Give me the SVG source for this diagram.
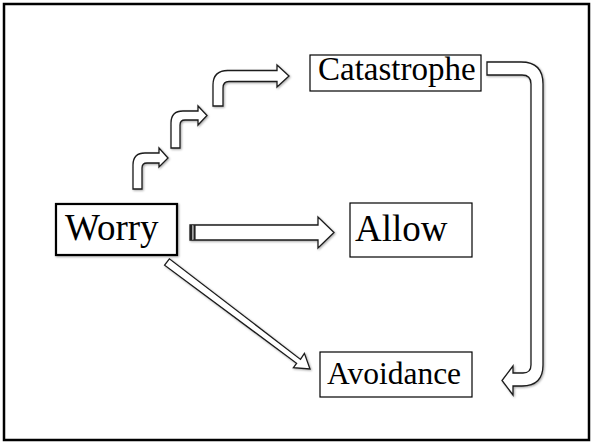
<svg xmlns="http://www.w3.org/2000/svg" width="593" height="444" viewBox="0 0 593 444">
  <defs>
    <filter id="soft" x="-10%" y="-10%" width="130%" height="130%">
      <feDropShadow dx="1" dy="1" stdDeviation="0.8" flood-color="#000" flood-opacity="0.35"/>
    </filter>
  </defs>
  <style>
    .frame { fill: #ffffff; stroke: #000; stroke-width: 2.5; }
    .box { fill: #ffffff; stroke: #000; stroke-width: 1.2; }
    .box-strong { fill: #ffffff; stroke: #000; stroke-width: 2.2; }
    .label { font-family: "Liberation Serif", "Times New Roman", serif; fill: #000; }
    .arrow { fill: #ffffff; stroke: #1a1a1a; stroke-width: 1.3; stroke-linejoin: miter; }
  </style>

  <!-- page frame -->
  <rect class="frame" x="4" y="4" width="585" height="436"/>

  <!-- connectors -->
  <g id="connectors" filter="url(#soft)">
    <!-- stepped bent arrows climbing from Worry to Catastrophe -->
    <path class="arrow" d="M133,189 V165 Q133,153 145,153 H159 V148 L168,158 L159,167 V163 H147 Q142,163 142,168 V189 Z"/>
    <path class="arrow" d="M171,148 V123 Q171,111 183,111 H198 V106 L207,115.5 L198,125 V120 H185 Q180,120 180,125 V148 Z"/>
    <path class="arrow" d="M213,106 V85 Q213,70.5 228,70.5 H277 V65 L289,76 L277,87 V81.5 H229 Q223,81.5 223,88 V106 Z"/>

    <!-- Worry to Allow -->
    <path class="arrow" d="M190,225 H318 V217 L334,232.5 L318,248 V240 H190 Z"/>
    <rect x="190" y="225" width="2.2" height="15" fill="#222"/>
    <rect x="192.2" y="225" width="1.4" height="15" fill="#999"/>
    <rect x="193.6" y="225" width="2" height="15" fill="#222"/>

    <!-- Worry to Avoidance -->
    <path class="arrow" d="M164.6,265.2 L169.4,258.8 L300.5,359.4 L304.4,353.4 L310,369 L293.4,367.6 L296.6,363.3 Z"/>

    <!-- Catastrophe around to Avoidance -->
    <path class="arrow" d="M487,62 H521 Q543,62 543,84 V365 Q543,386 522,386 H513 V395 L502,380.5 L513,366 V373 H523 Q531,373 531,365 V84 Q531,75 522,75 H487 Z"/>
  </g>

  <!-- nodes -->
  <g id="worry">
    <rect class="box-strong" x="56" y="204" width="121" height="51" filter="url(#soft)"/>
    <text class="label" x="65" y="240" font-size="37">Worry</text>
  </g>

  <g id="allow">
    <rect class="box" x="350" y="203" width="122" height="54"/>
    <text class="label" x="355" y="241" font-size="37">Allow</text>
  </g>

  <g id="catastrophe">
    <rect class="box" x="310" y="55" width="171" height="36"/>
    <text class="label" x="318" y="80" font-size="33">Catastrophe</text>
  </g>

  <g id="avoidance">
    <rect class="box" x="320" y="352" width="152" height="45"/>
    <text class="label" x="327" y="384" font-size="31.5">Avoidance</text>
  </g>
</svg>
